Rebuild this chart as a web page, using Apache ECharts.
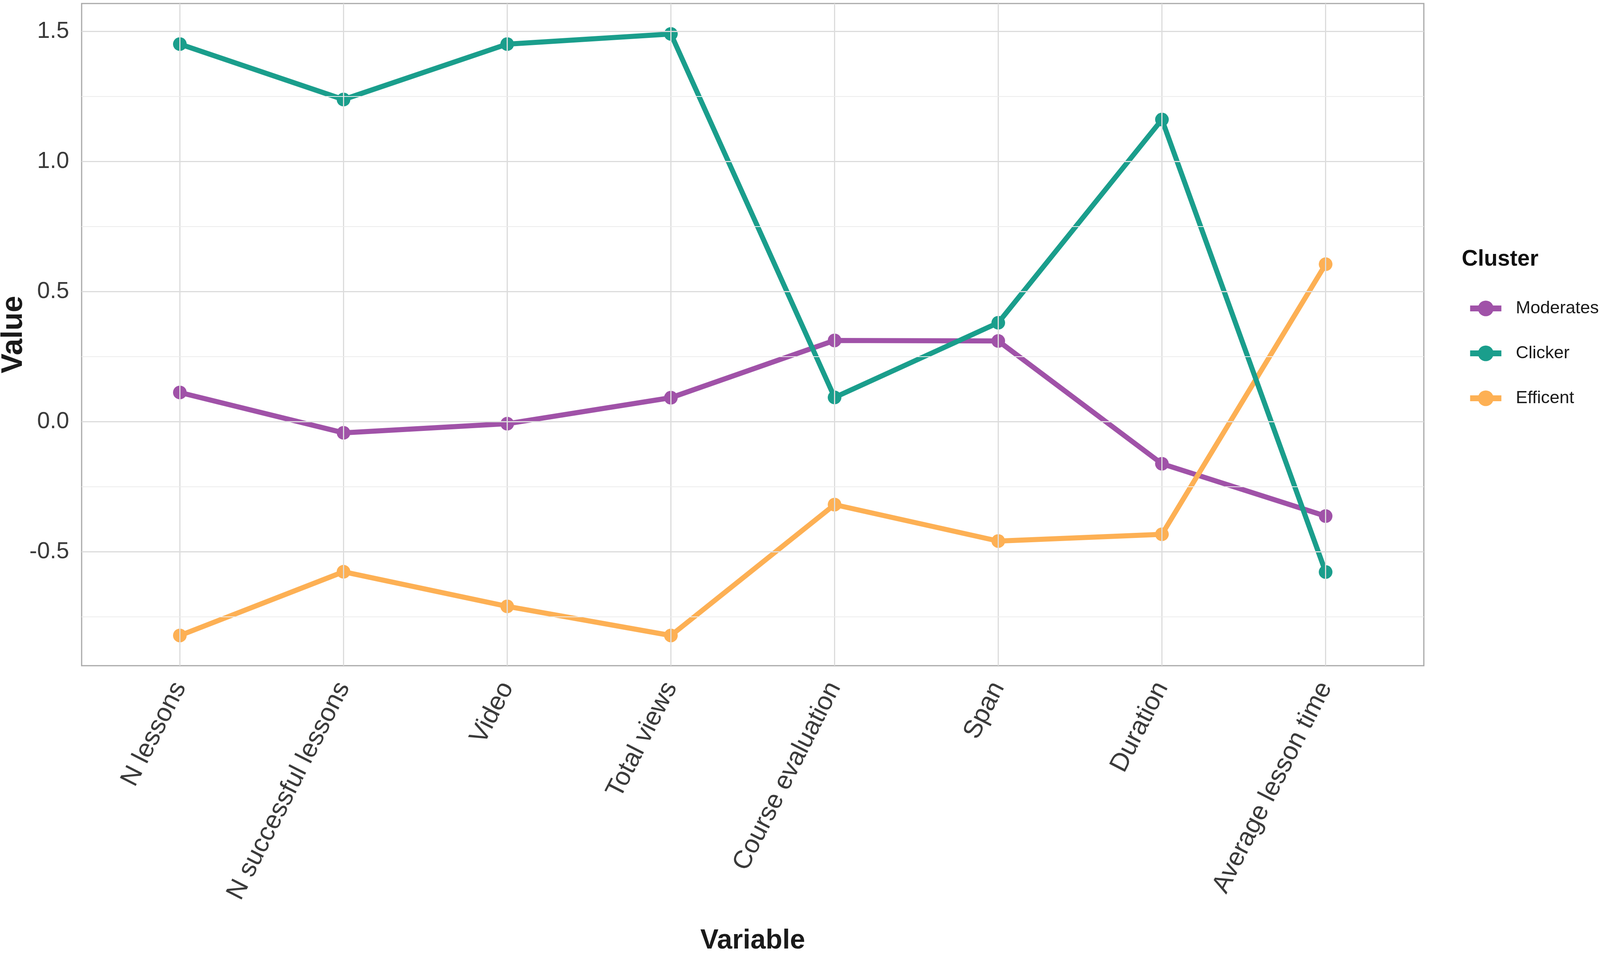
<!DOCTYPE html>
<html>
<head>
<meta charset="utf-8">
<title>Cluster profiles</title>
<script src="https://cdn.jsdelivr.net/npm/echarts@6/dist/echarts.min.js"></script>
<style>
html, body { margin: 0; padding: 0; background: #fff; overflow: hidden; }
#main { width: 100vw; height: 100vh; }
</style>
</head>
<body>
<div id="main"></div>
<script>
// data
var categories = ['N lessons', 'N successful lessons', 'Video', 'Total views',
    'Course evaluation', 'Span', 'Duration', 'Average lesson time'];
var moderates = [0.112, -0.043, -0.008, 0.092, 0.312, 0.310, -0.162, -0.363];
var clicker = [1.451, 1.238, 1.451, 1.490, 0.093, 0.380, 1.161, -0.578];
var efficent = [-0.822, -0.577, -0.710, -0.822, -0.319, -0.459, -0.433, 0.605];
var legendNames = ['Moderates', 'Clicker', 'Efficent'];

// ticks
var yMajorTicks = [-0.5, 0, 0.5, 1.0, 1.5];
var yMinorTicks = [-0.75, -0.25, 0.25, 0.75, 1.25];
var xTicks = [0, 1, 2, 3, 4, 5, 6, 7];
var yRange = [-0.938, 1.607];
var xRange = [-0.6, 7.6];

var font = 'Liberation Sans, Arial, Helvetica, sans-serif';
var colors = { Moderates: '#a052a8', Clicker: '#1a9e8c', Efficent: '#fdb054' };

// the window may be narrower than the 4562px reference, so scale horizontal sizes
var W = window.innerWidth;
var H = window.innerHeight;
var sx = W / 4562;
var sy = H / 2442;

function pairs(vals) {
    return vals.map(function (v, i) { return [i, v]; });
}

function gridLines() {
    var out = [];
    xTicks.forEach(function (x) {
        out.push({ xAxis: x, lineStyle: { color: '#dcdcdc', width: 3, type: 'solid' } });
    });
    yMajorTicks.forEach(function (y) {
        out.push({ yAxis: y, lineStyle: { color: '#dcdcdc', width: 3, type: 'solid' } });
    });
    yMinorTicks.forEach(function (y) {
        out.push({ yAxis: y, lineStyle: { color: '#ececec', width: 2, type: 'solid' } });
    });
    return out;
}

function lineSeries(name, vals) {
    return {
        name: name,
        type: 'line',
        data: pairs(vals),
        symbol: 'circle',
        symbolSize: 35,
        z: 3,
        lineStyle: { color: colors[name], width: 13 },
        itemStyle: { color: colors[name] },
        animation: false
    };
}

var chart = echarts.init(document.getElementById('main'));

var option = {
    backgroundColor: '#ffffff',
    animation: false,
    title: {
        text: 'Cluster',
        left: Math.round(4168 * sx),
        top: Math.round(636 * sy),
        padding: 0,
        textStyle: { fontFamily: font, fontSize: Math.round(64 * sx), fontWeight: 'bold', color: '#111111' }
    },
    legend: {
        data: legendNames,
        orient: 'vertical',
        left: Math.round(4178 * sx),
        top: Math.round(762 * sy),
        itemWidth: Math.round(89 * sx),
        itemHeight: 50,
        itemGap: 70,
        lineStyle: { width: 15 },
        textStyle: { fontFamily: font, fontSize: 45, color: '#1a1a1a', padding: [0, 0, 0, Math.round(36 * sx)] }
    },
    grid: {
        left: Math.round(233 * sx),
        right: Math.round(502 * sx),
        top: Math.round(9 * sy),
        bottom: Math.round(738 * sy),
        outerBoundsMode: 'none',
        containLabel: false,
        show: true,
        borderColor: '#a8a8a8',
        borderWidth: 3,
        backgroundColor: '#ffffff'
    },
    xAxis: {
        type: 'value',
        min: xRange[0],
        max: xRange[1],
        name: 'Variable',
        nameLocation: 'middle',
        nameGap: Math.round(670 * sy),
        nameTextStyle: { fontFamily: font, fontSize: Math.round(78 * sx), fontWeight: 'bold', color: '#1a1a1a' },
        axisLine: { show: false },
        splitLine: { show: false },
        axisTick: { show: true, customValues: xTicks, length: 22, lineStyle: { color: '#a8a8a8', width: 3 } },
        axisLabel: {
            customValues: xTicks,
            rotate: 63,
            margin: 46,
            fontFamily: font,
            fontSize: 66,
            color: '#3a3a3a',
            formatter: function (v) { return categories[Math.round(v)]; }
        }
    },
    yAxis: {
        type: 'value',
        min: yRange[0],
        max: yRange[1],
        name: 'Value',
        nameLocation: 'middle',
        nameRotate: 90,
        nameGap: 136,
        nameMoveOverlap: false,
        nameTextStyle: { fontFamily: font, fontSize: 76, fontWeight: 'bold', color: '#1a1a1a' },
        axisLine: { show: false },
        splitLine: { show: false },
        axisTick: { show: true, customValues: yMajorTicks, length: Math.round(18 * sx), lineStyle: { color: '#a8a8a8', width: 3 } },
        axisLabel: {
            customValues: yMajorTicks,
            margin: Math.round(36 * sx),
            fontFamily: font,
            fontSize: Math.round(66 * sx),
            color: '#3a3a3a',
            formatter: function (v) { return v.toFixed(1); }
        }
    },
    series: [
        {
            type: 'line',
            data: [],
            z: 1,
            silent: true,
            markLine: {
                silent: true,
                symbol: ['none', 'none'],
                label: { show: false },
                animation: false,
                data: gridLines()
            }
        },
        lineSeries('Moderates', moderates),
        lineSeries('Efficent', efficent),
        lineSeries('Clicker', clicker)
    ]
};

chart.setOption(option);
</script>
</body>
</html>
